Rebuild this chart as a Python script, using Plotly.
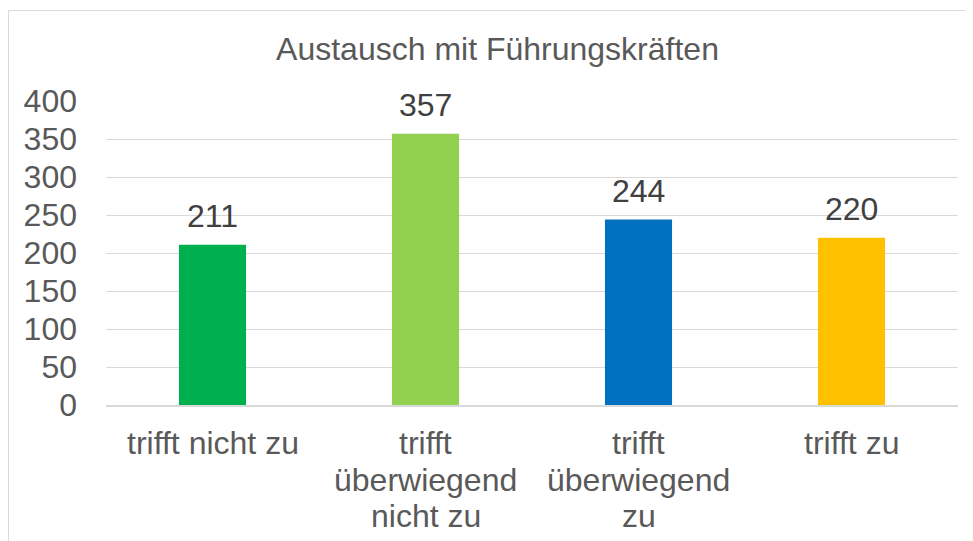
import plotly.graph_objects as go

categories = ["trifft nicht zu", "trifft überwiegend nicht zu", "trifft überwiegend zu", "trifft zu"]
category_lines = [["trifft nicht zu"], ["trifft", "überwiegend", "nicht zu"], ["trifft", "überwiegend", "zu"], ["trifft zu"]]
values = [211, 357, 244, 220]
colors = ["#00B050", "#92D050", "#0070C0", "#FFC000"]
y_ticks = [0, 50, 100, 150, 200, 250, 300, 350, 400]
title_text = "Austausch mit Führungskräften"

W, H = 973, 541
OFF = 8  # page body margin offset
# plot area in window pixels: x 106..958, y 101..405
L = 106 - OFF
R = W - (958 - OFF)
T = 101 - OFF
B = H - (405 - OFF)
pw = W - L - R
ph = H - T - B

FONT = "Liberation Sans, Arial, sans-serif"
FS = 32

fig = go.Figure()
fig.add_trace(go.Bar(
    x=categories, y=values,
    marker=dict(color=colors, line=dict(width=0)),
    width=0.315,
    hoverinfo="skip",
))

for c, v in zip(categories, values):
    fig.add_annotation(x=c, y=v, text=str(v), showarrow=False,
                       yanchor="bottom", yshift=9,
                       font=dict(family=FONT, size=FS, color="#404040"))

# category labels, one annotation per line for tighter line spacing
for c, lines in zip(categories, category_lines):
    for i, ln in enumerate(lines):
        fig.add_annotation(x=c, xref="x", y=0, yref="paper", text=ln,
                           showarrow=False, yanchor="top",
                           yshift=-(18 + i * 36.5),
                           font=dict(family=FONT, size=FS, color="#595959"))

def px_to_paper_x(px):
    return (px - OFF - L) / pw

def px_to_paper_y(py):
    return (H - B - (py - OFF)) / ph

fig.add_shape(type="rect", xref="paper", yref="paper",
              x0=px_to_paper_x(8.5), x1=px_to_paper_x(990),
              y0=px_to_paper_y(570), y1=px_to_paper_y(10.5),
              line=dict(color="#D9D9D9", width=1), fillcolor="rgba(0,0,0,0)",
              layer="below")

fig.update_layout(
    width=W, height=H,
    margin=dict(l=L, r=R, t=T, b=B, autoexpand=False),
    paper_bgcolor="white", plot_bgcolor="white",
    showlegend=False,
    title=dict(text=title_text, x=(497.5 - OFF) / W, xanchor="center",
               y=1 - (49 - OFF) / H, yanchor="middle", yref="container",
               font=dict(family=FONT, size=FS, color="#595959")),
    font=dict(family=FONT, size=FS, color="#595959"),
    xaxis=dict(showgrid=False, showline=True, linecolor="#D9D9D9", linewidth=1.5,
               ticks="", showticklabels=False, fixedrange=True),
    yaxis=dict(range=[0, 400], tickvals=y_ticks, showgrid=True,
               gridcolor="#D9D9D9", gridwidth=1.3, zeroline=False,
               showline=False, ticks="",
               tickfont=dict(family=FONT, size=FS, color="#595959"),
               ticklabelstandoff=28, fixedrange=True),
)

fig.write_html("out.html")
